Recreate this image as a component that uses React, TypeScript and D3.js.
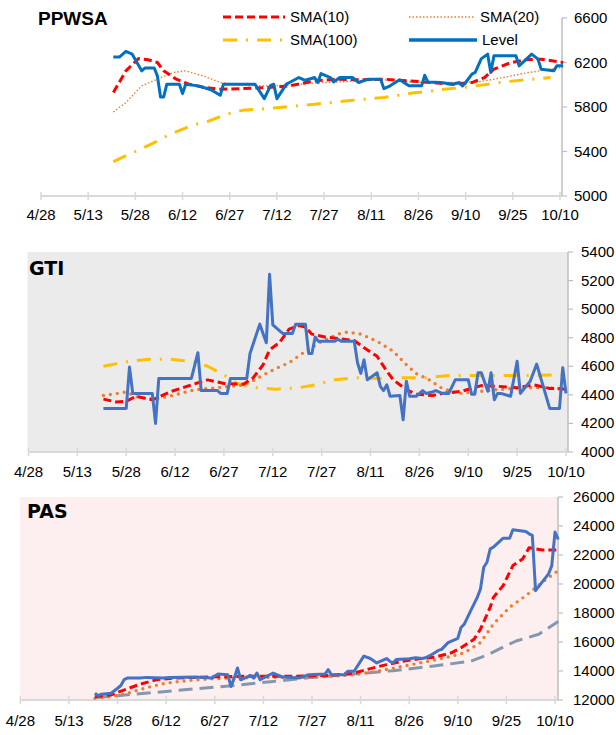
import * as d3 from 'd3';

type Pt = [string, number];

// x-axis tick labels (every 15 days)
const tickLabels = ['4/28', '5/13', '5/28', '6/12', '6/27', '7/12', '7/27', '8/11', '8/26', '9/10', '9/25', '10/10'];

// ---- PPWSA ----
const ppwsaLevel: Pt[] = [
  ['5/21', 6250], ['5/23', 6250], ['5/25', 6300], ['5/27', 6275], ['5/30', 6125], ['5/31', 6150],
  ['6/3', 6150], ['6/4', 6080], ['6/5', 5890], ['6/6', 5890], ['6/7', 6005], ['6/11', 6005],
  ['6/12', 5920], ['6/13', 6005], ['6/17', 5990], ['6/21', 5955], ['6/24', 5905], ['6/25', 6005],
  ['7/5', 6005], ['7/8', 5875], ['7/10', 5995], ['7/11', 6005], ['7/12', 5875], ['7/15', 6005],
  ['7/16', 6020], ['7/19', 6065], ['7/21', 6040], ['7/24', 6065], ['7/25', 6020], ['7/26', 6100],
  ['7/29', 6065], ['7/30', 6025], ['8/1', 6065], ['8/5', 6065], ['8/7', 6020], ['8/10', 6050],
  ['8/14', 6050], ['8/15', 5965], ['8/17', 5990], ['8/20', 6045], ['8/23', 5990], ['8/27', 5990],
  ['8/28', 6085], ['8/29', 6025], ['9/2', 6020], ['9/6', 6005], ['9/8', 6020], ['9/9', 5990],
  ['9/10', 6020], ['9/12', 6095], ['9/13', 6110], ['9/15', 6235], ['9/17', 6275], ['9/18', 6110],
  ['9/19', 6260], ['9/26', 6260], ['9/27', 6170], ['10/1', 6275], ['10/3', 6230], ['10/4', 6140],
  ['10/8', 6125], ['10/9', 6170], ['10/11', 6170],
];
const ppwsaSma10: Pt[] = [
  ['5/21', 5930], ['5/25', 6125], ['5/29', 6235], ['6/1', 6225], ['6/4', 6200], ['6/6', 6125],
  ['6/10', 6050], ['6/14', 6005], ['6/19', 5975], ['6/24', 5960], ['7/1', 5965], ['7/9', 5975],
  ['7/16', 5990], ['7/24', 6035], ['7/31', 6050], ['8/8', 6045], ['8/15', 6050], ['8/23', 6035],
  ['8/30', 6020], ['9/6', 6005], ['9/12', 6020], ['9/16', 6065], ['9/19', 6140], ['9/24', 6195],
  ['9/29', 6225], ['10/4', 6230], ['10/11', 6200],
];
const ppwsaSma20: Pt[] = [
  ['5/21', 5755], ['5/25', 5840], ['5/30', 5990], ['6/4', 6050], ['6/9', 6110], ['6/13', 6125],
  ['6/19', 6075], ['6/24', 6020], ['7/1', 5995], ['7/9', 5990], ['7/16', 5995], ['7/24', 6015],
  ['7/31', 6025], ['8/8', 6035], ['8/15', 6045], ['8/23', 6025], ['8/30', 6020], ['9/7', 6020],
  ['9/14', 6025], ['9/22', 6065], ['9/29', 6105], ['10/7', 6140], ['10/11', 6155],
];
const ppwsaSma100: Pt[] = [
  ['5/21', 5310], ['5/28', 5400], ['6/3', 5480], ['6/8', 5555], ['6/15', 5635], ['6/20', 5670],
  ['6/26', 5735], ['7/1', 5770], ['7/11', 5790], ['7/24', 5825], ['8/5', 5860], ['8/15', 5885],
  ['8/24', 5925], ['9/2', 5955], ['9/12', 5985], ['9/22', 6025], ['10/1', 6050], ['10/7', 6065],
];

// ---- GTI ----
const gtiLevel: Pt[] = [
  ['5/21', 4305], ['5/28', 4305], ['5/29', 4595], ['5/30', 4410], ['6/5', 4410], ['6/6', 4200],
  ['6/7', 4515], ['6/17', 4515], ['6/19', 4695], ['6/20', 4430], ['6/25', 4430], ['6/26', 4410],
  ['6/28', 4410], ['6/29', 4515], ['7/4', 4515], ['7/5', 4690], ['7/8', 4895], ['7/10', 4765],
  ['7/11', 5245], ['7/12', 4890], ['7/15', 4830], ['7/18', 4830], ['7/19', 4895], ['7/22', 4895],
  ['7/23', 4690], ['7/24', 4690], ['7/25', 4805], ['7/26', 4775], ['7/31', 4775], ['8/1', 4790],
  ['8/2', 4775], ['8/6', 4775], ['8/7', 4625], ['8/8', 4550], ['8/9', 4645], ['8/10', 4505],
  ['8/13', 4555], ['8/14', 4460], ['8/15', 4430], ['8/16', 4470], ['8/17', 4390], ['8/20', 4395],
  ['8/21', 4225], ['8/22', 4495], ['8/23', 4390], ['8/25', 4390], ['8/27', 4430], ['8/28', 4410],
  ['8/30', 4420], ['8/31', 4430], ['9/2', 4410], ['9/4', 4410], ['9/6', 4505], ['9/10', 4505],
  ['9/11', 4405], ['9/12', 4405], ['9/13', 4555], ['9/14', 4555], ['9/16', 4425], ['9/17', 4555],
  ['9/18', 4365], ['9/19', 4410], ['9/20', 4410], ['9/23', 4390], ['9/25', 4635], ['9/26', 4410],
  ['9/29', 4495], ['10/1', 4615], ['10/5', 4305], ['10/8', 4305], ['10/9', 4590], ['10/10', 4410],
];
const gtiSma10: Pt[] = [
  ['5/21', 4370], ['5/25', 4350], ['5/28', 4355], ['5/31', 4390], ['6/5', 4365], ['6/11', 4425],
  ['6/17', 4470], ['6/22', 4505], ['6/27', 4480], ['7/3', 4475], ['7/6', 4520], ['7/9', 4610],
  ['7/11', 4715], ['7/14', 4765], ['7/17', 4860], ['7/20', 4885], ['7/22', 4875], ['7/24', 4825],
  ['7/28', 4805], ['8/1', 4795], ['8/6', 4780], ['8/9', 4730], ['8/13', 4670], ['8/16', 4565],
  ['8/18', 4505], ['8/22', 4435], ['8/25', 4405], ['8/30', 4395], ['9/2', 4410], ['9/8', 4425],
  ['9/14', 4465], ['9/19', 4460], ['9/25', 4450], ['9/30', 4470], ['10/5', 4445], ['10/10', 4440],
];
const gtiSma20: Pt[] = [
  ['5/21', 4395], ['5/28', 4420], ['6/1', 4380], ['6/6', 4370], ['6/12', 4400], ['6/18', 4435],
  ['6/25', 4450], ['7/3', 4470], ['7/6', 4500], ['7/10', 4550], ['7/13', 4585], ['7/17', 4625],
  ['7/22', 4705], ['7/27', 4775], ['8/1', 4825], ['8/4', 4840], ['8/8', 4825], ['8/13', 4775],
  ['8/18', 4705], ['8/22', 4610], ['8/25', 4550], ['8/29', 4505], ['9/2', 4445], ['9/7', 4410],
  ['9/12', 4420], ['9/18', 4435], ['9/24', 4445], ['9/30', 4450], ['10/5', 4450], ['10/10', 4440],
];
const gtiSma100: Pt[] = [
  ['5/21', 4600], ['5/29', 4635], ['6/4', 4650], ['6/10', 4650], ['6/17', 4635], ['6/22', 4600],
  ['6/27', 4540], ['7/1', 4480], ['7/7', 4450], ['7/13', 4440], ['7/20', 4450], ['7/25', 4470],
  ['7/31', 4505], ['8/6', 4520], ['8/14', 4515], ['8/21', 4520], ['8/28', 4520], ['9/4', 4535],
  ['9/11', 4535], ['9/18', 4535], ['9/27', 4535], ['10/10', 4540],
];

// ---- PAS ----
const pasLevel: Pt[] = [
  ['5/21', 12470], ['5/22', 12300], ['5/23', 12400], ['5/26', 12470], ['5/28', 12810], ['5/29', 13000],
  ['5/30', 13400], ['5/31', 13510], ['6/4', 13510], ['6/6', 13560], ['6/11', 13510], ['6/13', 13560],
  ['6/21', 13580], ['6/26', 13510], ['6/28', 13790], ['7/1', 13745], ['7/2', 12930], ['7/3', 13510],
  ['7/4', 14210], ['7/5', 13395], ['7/8', 13700], ['7/9', 13510], ['7/10', 13860], ['7/11', 13395],
  ['7/15', 13860], ['7/18', 13580], ['7/23', 13510], ['7/26', 13745], ['7/31', 13790], ['8/1', 14095],
  ['8/2', 13745], ['8/6', 13745], ['8/7', 13980], ['8/9', 13980], ['8/12', 15025], ['8/14', 14860],
  ['8/16', 14560], ['8/19', 14860], ['8/20', 14675], ['8/21', 14560], ['8/22', 14790], ['8/26', 14840],
  ['8/28', 14910], ['8/30', 14860], ['8/31', 14910], ['9/2', 15140], ['9/4', 15420], ['9/5', 15490],
  ['9/7', 15955], ['9/10', 16255], ['9/11', 17000], ['9/12', 17235], ['9/14', 18160], ['9/16', 19080],
  ['9/17', 19655], ['9/18', 21155], ['9/19', 21500], ['9/20', 22425], ['9/21', 22540], ['9/24', 23160],
  ['9/26', 23160], ['9/27', 23740], ['10/1', 23625], ['10/2', 23460], ['10/3', 23350], ['10/4', 19540],
  ['10/8', 20695], ['10/9', 21270], ['10/10', 23580], ['10/11', 23070],
];
const pasSma10: Pt[] = [
  ['5/21', 12230], ['5/26', 12350], ['5/31', 12770], ['6/4', 13095], ['6/9', 13395], ['6/14', 13510],
  ['6/21', 13560], ['6/28', 13605], ['7/6', 13630], ['7/15', 13630], ['7/25', 13650], ['8/2', 13700],
  ['8/9', 13860], ['8/14', 14165], ['8/19', 14440], ['8/24', 14675], ['8/29', 14840], ['9/3', 14955],
  ['9/8', 15255], ['9/11', 15605], ['9/15', 16185], ['9/17', 16885], ['9/20', 18400], ['9/21', 19080],
  ['9/24', 19890], ['9/27', 21270], ['9/30', 21730], ['10/2', 22500], ['10/6', 22350], ['10/11', 22350],
];
const pasSma20: Pt[] = [
  ['5/21', 12115], ['5/26', 12230], ['5/31', 12465], ['6/6', 12860], ['6/12', 13165], ['6/18', 13325],
  ['6/26', 13465], ['7/3', 13510], ['7/13', 13560], ['7/23', 13560], ['8/2', 13630], ['8/9', 13745],
  ['8/16', 13980], ['8/24', 14325], ['8/31', 14630], ['9/6', 14910], ['9/12', 15255], ['9/17', 15955],
  ['9/21', 17235], ['9/26', 18400], ['10/1', 19190], ['10/6', 20115], ['10/11', 20925],
];
const pasSma100: Pt[] = [
  ['5/21', 12165], ['5/28', 12300], ['6/9', 12535], ['6/21', 12770], ['7/3', 13000], ['7/15', 13280],
  ['7/27', 13560], ['8/9', 13790], ['8/21', 14025], ['9/2', 14325], ['9/14', 14675], ['9/19', 15095],
  ['9/24', 15650], ['9/28', 16070], ['10/5', 16535], ['10/11', 17420],
];

const parse = d3.timeParse('%m/%d');
const AXIS = '#bfbfbf';
const FONT = 'Arial, "Liberation Sans", sans-serif';
const FS = 15;

interface LineStyle {
  color: string;
  width: number;
  dash?: string;
  cap?: 'round' | 'butt';
}

const red: LineStyle = { color: '#ff0000', width: 3, dash: '8,4' };
const orangeThin: LineStyle = { color: '#ed7d31', width: 1.4, dash: '1.5,2' };
const orangeDots: LineStyle = { color: '#ed7d31', width: 3.4, dash: '0,7', cap: 'round' };
const gold: LineStyle = { color: '#ffc000', width: 3, dash: '14,9,2,9' };
const grayDash: LineStyle = { color: '#8497b0', width: 3, dash: '14,7' };
const blueDark: LineStyle = { color: '#0070c0', width: 3 };
const blue: LineStyle = { color: '#4472c4', width: 3 };

interface PanelProps {
  title: string;
  titleX: number;
  titleY: number;
  titleFont: string;
  titleSize: number;
  x0: number;
  x1: number;
  yTop: number;
  yBottom: number;
  axisX: number;
  labelDx: number;
  labelY: number;
  yTicks: number[];
  bg?: { fill: string; x: number };
  series: { data: Pt[]; style: LineStyle }[];
}

function Panel(p: PanelProps) {
  const x = d3.scaleTime()
    .domain([parse('4/28')!, parse('10/10')!])
    .range([p.x0, p.x1]);
  const y = d3.scaleLinear()
    .domain([p.yTicks[0], p.yTicks[p.yTicks.length - 1]])
    .range([p.yBottom, p.yTop]);
  const line = d3.line<Pt>()
    .x((d) => x(parse(d[0])!))
    .y((d) => y(d[1]));

  return (
    <g>
      {p.bg && (
        <rect x={p.bg.x} y={p.yTop} width={p.axisX - p.bg.x} height={p.yBottom - p.yTop} fill={p.bg.fill} />
      )}
      {/* x axis */}
      <line x1={p.x0} x2={p.axisX} y1={p.yBottom} y2={p.yBottom} stroke="#d9d9d9" strokeWidth={2} />
      {tickLabels.map((t) => {
        const tx = x(parse(t)!);
        return (
          <g key={t}>
            <line x1={tx} x2={tx} y1={p.yBottom - 4} y2={p.yBottom + 4} stroke="#d9d9d9" strokeWidth={1.5} />
            <text x={tx} y={p.labelY} textAnchor="middle" fontSize={FS} fontFamily={FONT} fill="#000">{t}</text>
          </g>
        );
      })}
      {/* y axis on the right */}
      <line x1={p.axisX} x2={p.axisX} y1={p.yTop} y2={p.yBottom} stroke={AXIS} strokeWidth={1.5} />
      {p.yTicks.map((v) => (
        <g key={v}>
          <line x1={p.axisX} x2={p.axisX + 5} y1={y(v)} y2={y(v)} stroke={AXIS} strokeWidth={1.2} />
          <text x={p.axisX + p.labelDx} y={y(v) + 5} fontSize={FS} fontFamily={FONT} fill="#000">{v}</text>
        </g>
      ))}
      {p.series.map((s, i) => (
        <path
          key={i}
          d={line(s.data) ?? ''}
          fill="none"
          stroke={s.style.color}
          strokeWidth={s.style.width}
          strokeDasharray={s.style.dash}
          strokeLinecap={s.style.cap ?? 'butt'}
          strokeLinejoin="round"
        />
      ))}
      <text x={p.titleX} y={p.titleY} fontSize={p.titleSize} fontWeight="bold" fontFamily={p.titleFont}>
        {p.title}
      </text>
    </g>
  );
}

const legendItems: { label: string; style: LineStyle; x: number; y: number; len: number }[] = [
  { label: 'SMA(10)', style: red, x: 223, y: 17, len: 62 },
  { label: 'SMA(20)', style: orangeThin, x: 409, y: 17, len: 66 },
  { label: 'SMA(100)', style: gold, x: 223, y: 40, len: 62 },
  { label: 'Level', style: { ...blueDark, width: 3.5 }, x: 409, y: 40, len: 68 },
];

export default function App() {
  const verdana = '"DejaVu Sans", Verdana, sans-serif';
  return (
    <svg width={616} height={735} style={{ position: 'absolute', left: 0, top: 0, background: '#fff' }}>
      <Panel
        title="PPWSA" titleX={38} titleY={25} titleFont={FONT} titleSize={19}
        x0={41} x1={560} yTop={18} yBottom={196} axisX={562} labelDx={12} labelY={220}
        yTicks={[5000, 5400, 5800, 6200, 6600]}
        series={[
          { data: ppwsaSma100, style: gold },
          { data: ppwsaSma20, style: orangeThin },
          { data: ppwsaSma10, style: red },
          { data: ppwsaLevel, style: blueDark },
        ]}
      />
      {legendItems.map((l) => (
        <g key={l.label}>
          <line x1={l.x} x2={l.x + l.len} y1={l.y} y2={l.y} stroke={l.style.color}
            strokeWidth={l.style.width} strokeDasharray={l.style.dash} />
          <text x={l.x + l.len + 5} y={l.y + 5} fontSize={FS} fontFamily={FONT}>{l.label}</text>
        </g>
      ))}
      <Panel
        title="GTI" titleX={29} titleY={275} titleFont={verdana} titleSize={19}
        x0={28.5} x1={566} yTop={252} yBottom={452} axisX={568} labelDx={13} labelY={477}
        yTicks={[4000, 4200, 4400, 4600, 4800, 5000, 5200, 5400]}
        bg={{ fill: '#ebebeb', x: 27.5 }}
        series={[
          { data: gtiSma100, style: gold },
          { data: gtiSma20, style: orangeDots },
          { data: gtiSma10, style: red },
          { data: gtiLevel, style: blue },
        ]}
      />
      <Panel
        title="PAS" titleX={27} titleY={518} titleFont={verdana} titleSize={19}
        x0={20.4} x1={555} yTop={497} yBottom={700} axisX={558} labelDx={15} labelY={726}
        yTicks={[12000, 14000, 16000, 18000, 20000, 22000, 24000, 26000]}
        bg={{ fill: '#fdeff0', x: 20 }}
        series={[
          { data: pasSma100, style: grayDash },
          { data: pasSma20, style: orangeDots },
          { data: pasSma10, style: red },
          { data: pasLevel, style: blue },
        ]}
      />
    </svg>
  );
}
